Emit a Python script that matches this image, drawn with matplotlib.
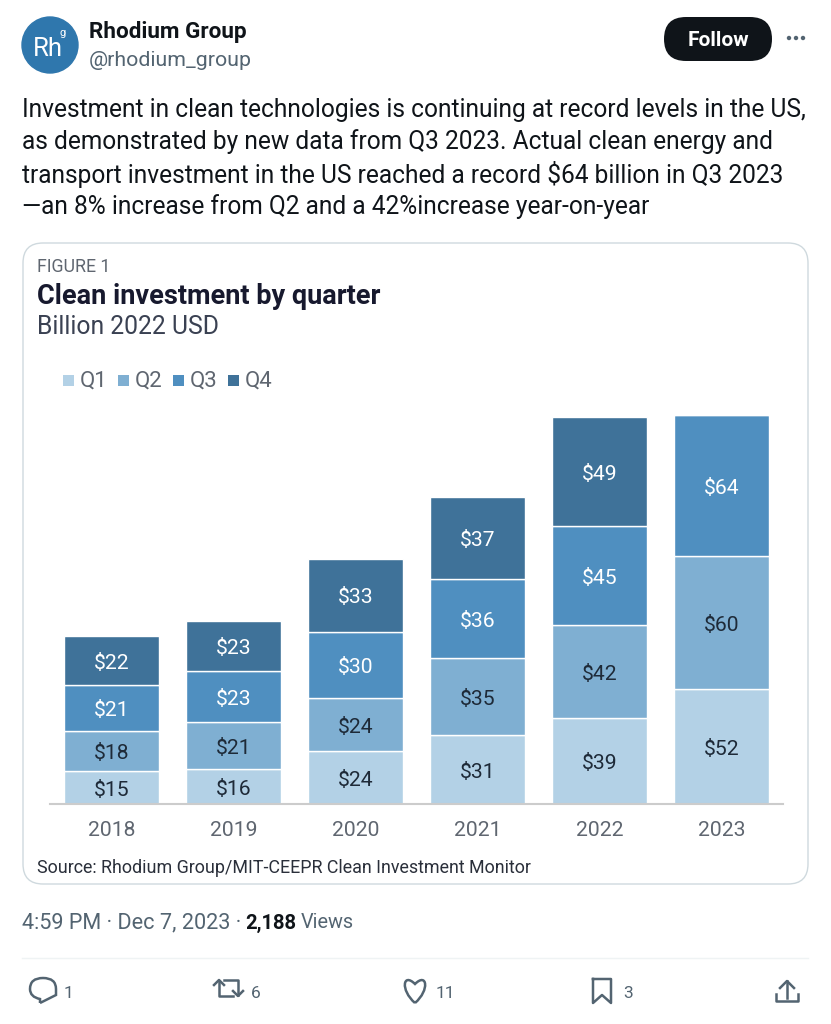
import matplotlib
matplotlib.use("Agg")
import matplotlib.pyplot as plt
from matplotlib.patches import FancyBboxPatch, Circle, PathPatch, Rectangle
from matplotlib.path import Path
import numpy as np

plt.rcParams['font.family'] = ['Roboto', 'DejaVu Sans']

years = ['2018', '2019', '2020', '2021', '2022', '2023']
q1 = [15, 16, 24, 31, 39, 52]
q2 = [18, 21, 24, 35, 42, 60]
q3 = [21, 23, 30, 36, 45, 64]
q4 = [22, 23, 33, 37, 49, 0]
quarters = ['Q1', 'Q2', 'Q3', 'Q4']
colors = ['#b3d1e6', '#7fafd2', '#4f8fc0', '#3f7299']
label_colors = ['#1e2a38', '#1e2a38', 'white', 'white']

tweet_lines = [
    'Investment in clean technologies is continuing at record levels in the US,',
    'as demonstrated by new data from Q3 2023. Actual clean energy and',
    'transport investment in the US reached a record $64 billion in Q3 2023',
    '\u2014an 8% increase from Q2 and a 42%increase year-on-year',
]
action_counts = ['1', '6', '11', '3']

W, H = 831, 1024
fig = plt.figure(figsize=(W / 100, H / 100), dpi=100)

# overlay in pixel coords for the tweet around the chart
bg = fig.add_axes([0, 0, 1, 1])
bg.set_xlim(0, W)
bg.set_ylim(H, 0)
bg.axis('off')

grey = '#536471'
dark = '#0f1419'

bg.add_patch(Circle((50, 45), 28, color='#2f77ad'))
bg.text(48, 49, 'Rh', color='white', fontsize=18.5, ha='center', va='center')
bg.text(63, 33, 'g', color='white', fontsize=8, ha='center', va='center')
bg.text(89, 32, 'Rhodium Group', color=dark, fontsize=16.2, fontweight='bold', va='center')
bg.text(89, 60, '@rhodium_group', color=grey, fontsize=15.3, va='center')
bg.add_patch(FancyBboxPatch((664, 17), 108, 44, boxstyle='round,pad=0,rounding_size=22',
                            fc=dark, ec='none'))
bg.text(718, 40, 'Follow', color='white', fontsize=15, fontweight='bold', ha='center', va='center')
for x in (789, 796, 803):
    bg.add_patch(Circle((x, 38), 1.5, color=grey))

for y, line in zip((110, 142, 174, 207), tweet_lines):
    bg.text(22, y, line, color=dark, fontsize=17.65, va='center')

# chart card
bg.add_patch(FancyBboxPatch((23, 243), 785, 641, boxstyle='round,pad=0,rounding_size=20',
                            fc='white', ec='#cfd9de', lw=1))
bg.text(37, 267, 'FIGURE 1', color='#5f6670', fontsize=12.8, va='center')
bg.text(37, 296, 'Clean investment by quarter', color='#17192e', fontsize=19.5, fontweight='bold', va='center')
bg.text(37, 327, 'Billion 2022 USD', color='#3a4152', fontsize=17.8, va='center')
for x, q, c in zip((63, 118, 173, 228), quarters, colors):
    bg.add_patch(Rectangle((x, 375), 11, 11, fc=c, ec='none'))
    bg.text(x + 17, 381, q, color='#5f6670', fontsize=16, va='center')
bg.text(37, 868, 'Source: Rhodium Group/MIT-CEEPR Clean Investment Monitor', color='#2a2f3a',
        fontsize=12.9, va='center')

# footer
bg.text(22, 923, '4:59 PM \u00b7 Dec 7, 2023 \u00b7', color=grey, fontsize=15.6, va='center')
bg.text(245, 923, '2,188', color=dark, fontsize=14.6, fontweight='bold', va='center')
bg.text(301, 923, 'Views', color=grey, fontsize=14.3, va='center')
bg.plot([22, 808], [958, 958], color='#eff3f4', lw=1)

# action icons
ic = dict(fc='none', ec=grey, lw=1.8)
bg.add_patch(PathPatch(Path([(40, 1003), (40, 999), (30, 997), (30, 989), (30, 978), (43, 978),
                             (56, 978), (56, 989), (56, 995), (40, 1003)],
                            [Path.MOVETO, Path.LINETO, Path.CURVE3, Path.CURVE3, Path.CURVE3, Path.CURVE3,
                             Path.CURVE3, Path.CURVE3, Path.LINETO, Path.LINETO][:10]), **ic))
bg.plot([219, 219, 233], [981, 996, 996], color=grey, lw=1.8)
bg.plot([214, 219, 224], [985, 980, 985], color=grey, lw=1.8)
bg.plot([224, 238, 238], [980, 980, 995], color=grey, lw=1.8)
bg.plot([233, 238, 243], [991, 996, 991], color=grey, lw=1.8)
bg.add_patch(PathPatch(Path([(415, 1003), (400, 990), (403, 972), (415, 984),
                             (427, 972), (430, 990), (415, 1003)],
                            [Path.MOVETO, Path.CURVE4, Path.CURVE4, Path.CURVE4,
                             Path.CURVE4, Path.CURVE4, Path.CURVE4]), **ic))
bg.plot([593, 593, 602, 611, 611, 593], [979, 1003, 995, 1003, 979, 979], color=grey, lw=1.8)
bg.plot([787, 787], [981, 998], color=grey, lw=1.8)
bg.plot([780, 787, 794], [988, 981, 988], color=grey, lw=1.8)
bg.plot([776, 776, 798, 798], [994, 1001, 1001, 994], color=grey, lw=1.8)
for x, n in zip((64, 251, 436, 623), action_counts):
    bg.text(x, 993, n, color=grey, fontsize=12.5, va='center')

# chart proper, baseline at y=804, 2.21 px per billion
ax = fig.add_axes([50 / W, 1 - 804 / H, 733 / W, 404 / H])
ax.patch.set_alpha(0)
x = np.arange(len(years))
bottom = np.zeros(len(years))
for vals, c, lc in zip((q1, q2, q3, q4), colors, label_colors):
    vals = np.array(vals)
    ax.bar(x, vals, 0.775, bottom=bottom, color=c, edgecolor='white', linewidth=1)
    for xi, b, v in zip(x, bottom, vals):
        if v > 0:
            ax.annotate('$%d' % v, (xi, b + v / 2), xytext=(0, -2), textcoords='offset points',
                        ha='center', va='center', color=lc, fontsize=15.2)
    bottom = bottom + vals

ax.set_xlim(-0.504, 5.504)
ax.set_ylim(0, 404 / 2.21)
ax.set_xticks(x)
ax.set_xticklabels(years, color='#5f6670', fontsize=15.2)
ax.tick_params(axis='x', length=0, pad=12.5)
ax.set_yticks([])
for s in ('top', 'left', 'right'):
    ax.spines[s].set_visible(False)
ax.spines['bottom'].set_color('#cccccc')
ax.spines['bottom'].set_linewidth(1.5)

fig.savefig('out.png', dpi=100, facecolor='white')
